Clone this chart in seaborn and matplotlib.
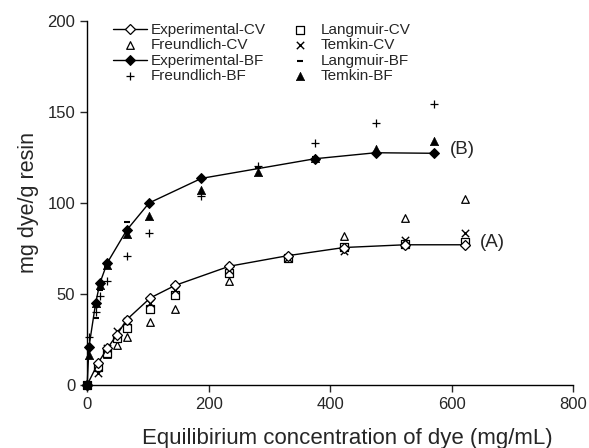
import numpy as np
import pandas as pd
import matplotlib
matplotlib.use("Agg")
import matplotlib.pyplot as plt
import seaborn as sns

# ---- data ----
ce_cv = [0, 18, 33, 49, 65, 104, 145, 234, 330, 423, 523, 622]
exp_cv = [0, 12, 20, 27.5, 35.8, 47.8, 54.7, 65.2, 71, 75.5, 77, 77]
lang_cv = [0, 10, 17.5, 25.7, 31.2, 41.7, 49.6, 61.5, 69.5, 76, 77.5, 78.5]
freu_cv = [0, 11, 17, 22, 26.3, 34.3, 41.7, 56.9, 69.5, 81.7, 91.8, 101.9]
temk_cv = [0, 6.6, 20, 29.4, 34.9, 45, 52, 63.4, 69.5, 73.5, 79.9, 83.6]

ce_bf = [0, 3, 14, 21, 33, 65, 102, 188, 282, 375, 475, 571]
exp_bf = [0, 21, 45, 56, 67, 85, 100, 113.5, None, 124.3, 127.6, 127.3]
lang_bf = [0, 20, 37, 52, 65, 89.6, 99, 113, 119, 125, 127, 128]
freu_bf = [None, 26.5, 40, 48.6, 57, 70.7, 83.6, 103.7, 120.3, 132.8, 144, 154.3]
temk_bf = [0, 16.5, 45, 55, 66, 83, 92.7, 107, 117, 124.5, 129.5, 134]

x_ticks = [0, 200, 400, 600, 800]
y_ticks = [0, 50, 100, 150, 200]

sns.set_style("ticks")
plt.rcParams['font.family'] = ['Liberation Sans', 'DejaVu Sans']

fig = plt.figure(figsize=(5.89, 4.48), dpi=100)
ax = fig.add_axes([0.148, 0.141, 0.825, 0.812])

cv = pd.DataFrame({"ce": ce_cv, "exp": exp_cv, "lang": lang_cv, "freu": freu_cv, "temk": temk_cv})
bf = pd.DataFrame({"ce": ce_bf, "exp": exp_bf, "lang": lang_bf, "freu": freu_bf, "temk": temk_bf}).astype(float)
bf_exp = bf.dropna(subset=["exp"])

ms = 5
# experimental lines
sns.lineplot(data=cv, x="ce", y="exp", ax=ax, color="black", lw=1.0, marker="D",
             markersize=ms, markerfacecolor="white", markeredgecolor="black",
             markeredgewidth=0.9, label="Experimental-CV", zorder=4, clip_on=False)
sns.lineplot(data=bf_exp, x="ce", y="exp", ax=ax, color="black", lw=1.0, marker="D",
             markersize=ms, markerfacecolor="black", markeredgecolor="black",
             label="Experimental-BF", zorder=4, clip_on=False)

sns.scatterplot(data=cv, x="ce", y="freu", ax=ax, marker="^", s=30, facecolor="white",
                edgecolor="black", linewidth=0.9, label="Freundlich-CV", zorder=3, clip_on=False)
sns.scatterplot(data=bf, x="ce", y="freu", ax=ax, marker="+", s=40, color="black",
                linewidth=0.9, label="Freundlich-BF", zorder=3, clip_on=False)
sns.scatterplot(data=cv, x="ce", y="lang", ax=ax, marker="s", s=26, facecolor="white",
                edgecolor="black", linewidth=0.9, label="Langmuir-CV", zorder=3, clip_on=False)
sns.scatterplot(data=cv, x="ce", y="temk", ax=ax, marker="x", s=28, color="black",
                linewidth=1.0, label="Temkin-CV", zorder=3, clip_on=False)
sns.scatterplot(data=bf, x="ce", y="lang", ax=ax, marker="_", s=25, color="black",
                linewidth=1.5, label="Langmuir-BF", zorder=3, clip_on=False)
sns.scatterplot(data=bf, x="ce", y="temk", ax=ax, marker="^", s=36, color="black",
                edgecolor="black", label="Temkin-BF", zorder=3, clip_on=False)

ax.set_xlim(0, 800)
ax.set_ylim(0, 200)
ax.set_xticks(x_ticks)
ax.set_yticks(y_ticks)
ax.tick_params(labelsize=12, length=5, width=1, direction="out")
ax.set_xlabel("Equilibirium concentration of dye (mg/mL)", fontsize=16, labelpad=14)
ax.xaxis.set_label_coords(0.535, -0.12)
ax.set_ylabel("mg dye/g resin", fontsize=15.5, labelpad=6)
for s in ["top", "right"]:
    ax.spines[s].set_visible(False)
for s in ["left", "bottom"]:
    ax.spines[s].set_linewidth(1.0)
    ax.spines[s].set_color("black")

ax.text(647, 78, "(A)", fontsize=13.5, va="center", ha="left")
ax.text(597, 129.5, "(B)", fontsize=13.5, va="center", ha="left")

handles, labels = ax.get_legend_handles_labels()
order = ["Experimental-CV", "Freundlich-CV", "Experimental-BF", "Freundlich-BF",
         "Langmuir-CV", "Temkin-CV", "Langmuir-BF", "Temkin-BF"]
hmap = dict(zip(labels, handles))
ax.legend([hmap[k] for k in order], order, ncol=2, frameon=False, fontsize=11,
          loc="upper left", bbox_to_anchor=(0.053, 0.995), handlelength=2.2,
          handletextpad=0.3, columnspacing=1.1, labelspacing=0.1, borderaxespad=0,
          borderpad=0)

fig.savefig("out.png", dpi=100)
